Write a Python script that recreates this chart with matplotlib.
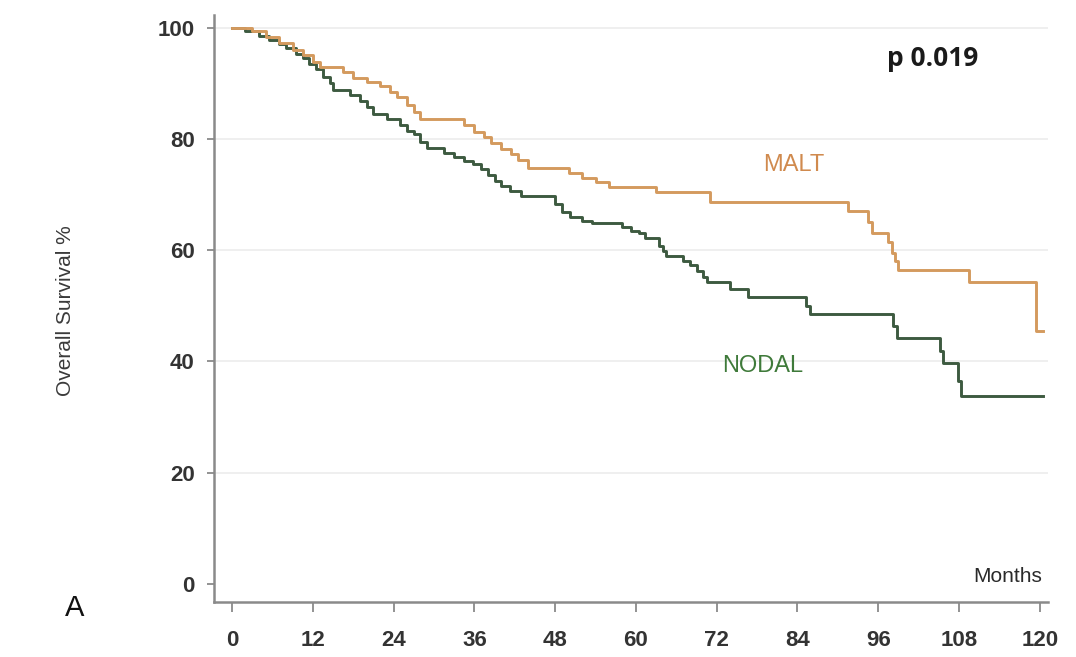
import matplotlib
matplotlib.use("Agg")
import matplotlib.pyplot as plt

# ---------------- DATA ---------------- #
# Kaplan-Meier steps: month of each drop and survival (%) after it
malt_months = [0, 3, 5, 7, 9, 10.5, 12, 13, 16.5, 18, 20, 22, 23.5, 24.5, 26, 27, 28,
               34.5, 36, 37.5, 38.5, 40, 41.5, 42.5, 44, 50, 52, 54, 56, 63, 71,
               91.5, 94.5, 95, 97.5, 98, 98.5, 99, 109.5, 119.5, 120.5]
malt_surv = [100, 99.3, 98.3, 97.2, 96, 95, 93.8, 93.0, 92, 91, 90.3, 89.5, 88.5, 87.6, 86, 84.8, 83.5,
             82.5, 81.2, 80.3, 79.3, 78.2, 77.3, 76.2, 74.8, 73.8, 73.0, 72.3, 71.3, 70.5, 68.6,
             67.0, 65.0, 63.0, 61.5, 59.5, 58.0, 56.5, 54.3, 45.5, 45.5]

nodal_months = [0, 2, 4, 5.5, 7, 8, 9.5, 10.5, 11.5, 12.5, 13.5, 14.5, 15, 17.5, 19, 20, 21, 23,
                25, 26, 27, 28, 29, 31.5, 33, 34.5, 35.8, 37, 38, 39, 40, 41.3, 43,
                48, 49, 50.2, 52, 53.5, 58, 59.2, 60.5, 61.3, 63.5, 64, 64.5, 67, 68, 69, 70, 70.5,
                74, 76.7, 85.3, 85.8, 98.2, 98.8, 105.2, 105.6, 107.8, 108.3, 120.5]
nodal_surv = [100, 99.3, 98.5, 97.7, 97, 96.3, 95.3, 94.5, 93.5, 92.5, 91.2, 90, 88.7, 87.8, 86.8, 85.8, 84.5, 83.5,
              82.4, 81.5, 80.8, 79.5, 78.3, 77.5, 76.7, 76.0, 75.4, 74.5, 73.5, 72.5, 71.6, 70.7, 69.8,
              68.3, 66.8, 66, 65.3, 64.9, 64.2, 63.5, 63.0, 62.1, 60.8, 59.8, 58.9, 58.0, 57.3, 56.2, 55.2, 54.3,
              53.1, 51.6, 50.0, 48.6, 46.3, 44.2, 41.8, 39.8, 36.5, 33.7, 33.7]

x_ticks = list(range(0, 121, 12))
y_ticks = [0, 20, 40, 60, 80, 100]
p_text = "p 0.019"

# ---------------- PLOT ---------------- #
plt.rcParams['font.family'] = ['Liberation Sans', 'DejaVu Sans']

fig = plt.figure(figsize=(10.76, 6.57), dpi=100)
ax = fig.add_axes([0.1989, 0.0837, 0.775, 0.893])

for y in y_ticks[1:]:
    ax.axhline(y, color='#ececec', lw=1.2, zorder=0)

ax.step(malt_months, malt_surv, where='post', color='#D49A5E', lw=2.1, zorder=3)
ax.step(nodal_months, nodal_surv, where='post', color='#3D5A40', lw=2.1, zorder=2)

ax.set_xlim(-2.67, 121.2)
ax.set_ylim(-3.23, 102.2)
ax.set_xticks(x_ticks)
ax.set_yticks(y_ticks)

for side in ['top', 'right']:
    ax.spines[side].set_visible(False)
for side in ['left', 'bottom']:
    ax.spines[side].set_color('#8a8a8a')
    ax.spines[side].set_linewidth(1.8)

ax.tick_params(axis='x', length=7, width=1.3, color='#8a8a8a', pad=13,
               labelsize=16, labelcolor='#333333')
ax.tick_params(axis='y', length=5, width=1.3, color='#8a8a8a', pad=9,
               labelsize=16, labelcolor='#333333')
for lbl in ax.get_xticklabels() + ax.get_yticklabels():
    lbl.set_fontweight('bold')

ax.set_ylabel("Overall Survival %", fontsize=15, color='#3a3a3a')
ax.yaxis.set_label_coords(-0.167, 0.497)

ax.text(120.3, -0.3, "Months", ha='right', va='bottom', fontsize=15, color='#2a2a2a')
ax.text(104, 94.4, p_text, ha='center', va='center', fontsize=19,
        fontweight='bold', family=['Open Sans', 'DejaVu Sans'], color='#1a1a1a')
ax.text(83.5, 75.3, "MALT", ha='center', va='center', fontsize=17, color='#D08A4E')
ax.text(78.9, 39.2, "NODAL", ha='center', va='center', fontsize=17, color='#3F7A3A')

fig.text(75 / 1076, 1 - 608 / 657, "A", ha='center', va='center', fontsize=21, color='#111111')

fig.savefig("out.png", dpi=100, facecolor='white')
